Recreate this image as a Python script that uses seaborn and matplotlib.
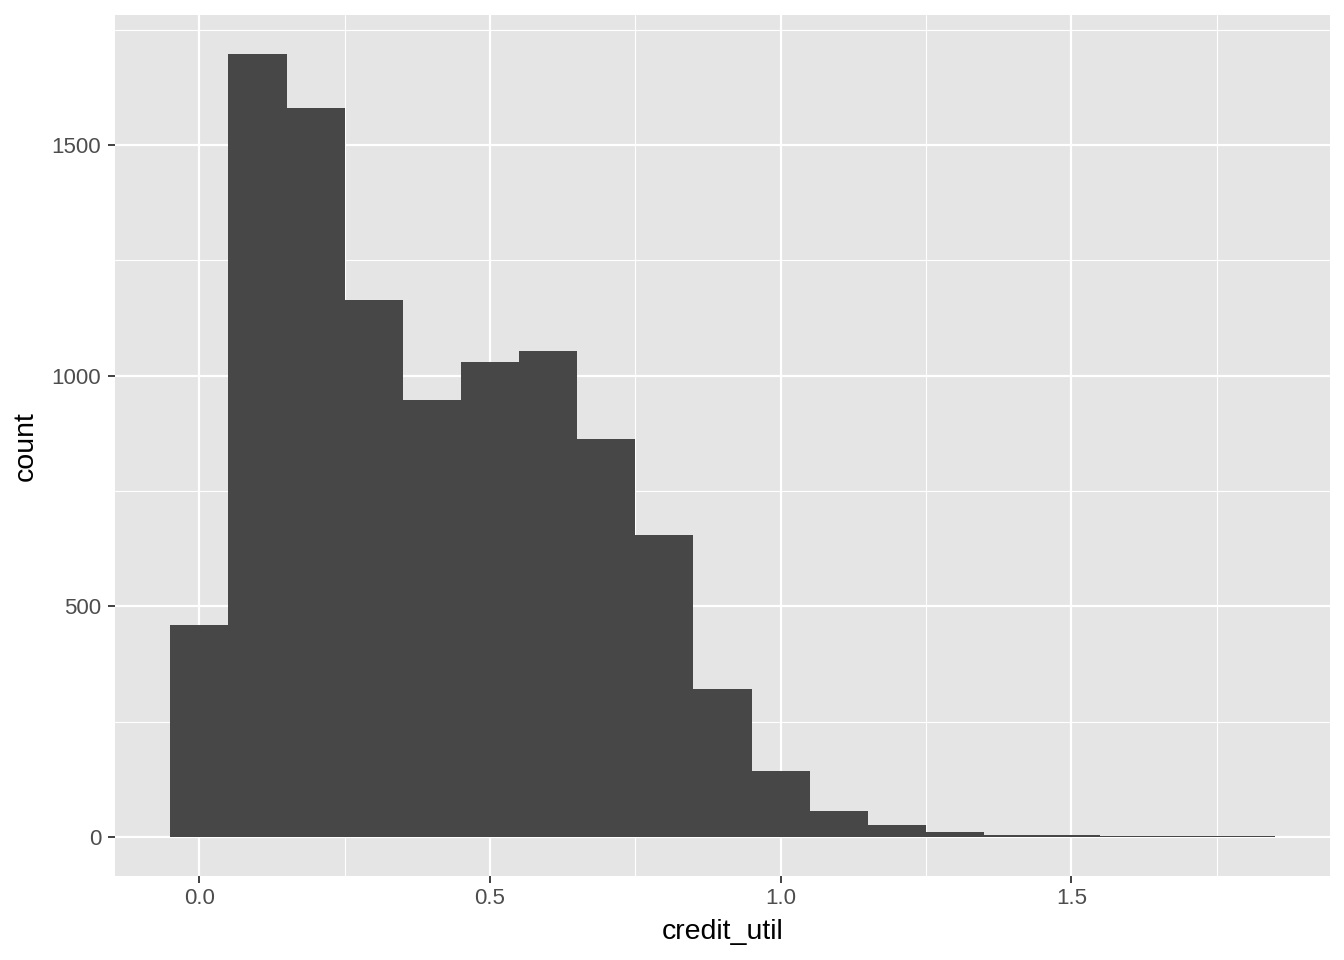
import numpy as np
import pandas as pd
import matplotlib
matplotlib.use("Agg")
import matplotlib.pyplot as plt
import seaborn as sns
from matplotlib.ticker import MultipleLocator

# bin centres (width 0.1) and counts
bin_centers = [0.0, 0.1, 0.2, 0.3, 0.4, 0.5, 0.6, 0.7, 0.8, 0.9,
               1.0, 1.1, 1.2, 1.3, 1.4, 1.5, 1.6, 1.7, 1.8]
counts = [460, 1696, 1579, 1163, 946, 1029, 1053, 862, 654, 320,
          143, 56, 26, 11, 4, 4, 2, 1, 1]

df = pd.DataFrame({"credit_util": bin_centers, "n": counts})

sns.set_style("darkgrid", {"axes.facecolor": "#e5e5e5", "grid.color": "white"})
plt.rcParams["font.family"] = ["Liberation Sans", "DejaVu Sans"]

fig = plt.figure(figsize=(13.44, 9.6), dpi=100)
ax = fig.add_axes([0.0856, 0.0875, 0.904, 0.8965])

sns.histplot(data=df, x="credit_util", weights="n", binwidth=0.1,
             binrange=(-0.05, 1.85), color="#474747", alpha=1,
             edgecolor="none", linewidth=0, ax=ax)

ax.set_xlim(-0.145, 1.945)
ax.set_ylim(-84.8, 1780.8)
ax.xaxis.set_minor_locator(MultipleLocator(0.25))
ax.yaxis.set_minor_locator(MultipleLocator(250))
ax.set_xticks([0, 0.5, 1.0, 1.5])
ax.set_xticklabels(["0.0", "0.5", "1.0", "1.5"])
ax.set_yticks([0, 500, 1000, 1500])
ax.set_yticklabels(["0", "500", "1000", "1500"])

ax.grid(which="major", color="white", linewidth=1.6)
ax.grid(which="minor", color="white", linewidth=0.8)
ax.set_axisbelow(True)
for s in ax.spines.values():
    s.set_visible(False)

ax.tick_params(axis="both", which="major", length=5, width=1.3, color="#333333",
               labelsize=16, labelcolor="#4d4d4d", bottom=True, left=True)
ax.tick_params(axis="x", which="major", pad=3.5)
ax.tick_params(axis="y", which="major", pad=5)
ax.tick_params(axis="both", which="minor", length=0)

ax.set_xlabel("credit_util", fontsize=20.5, color="black", labelpad=7)
ax.set_ylabel("count", fontsize=20.5, color="black", labelpad=9)

fig.savefig("out.png", dpi=100)
